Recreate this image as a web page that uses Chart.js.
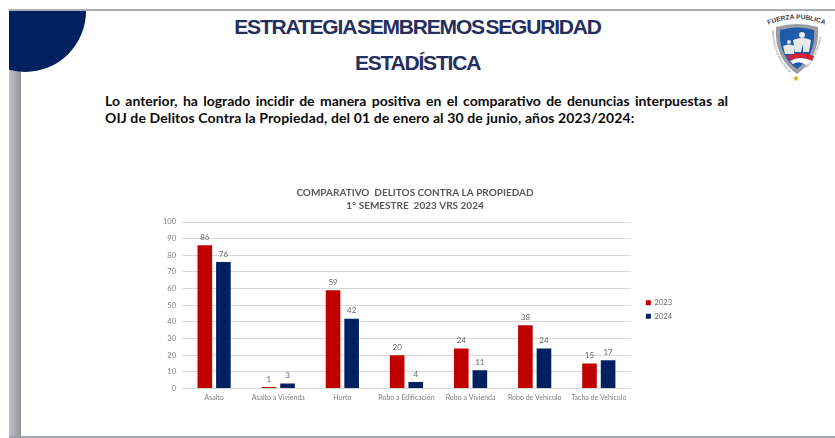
<!DOCTYPE html>
<html>
<head>
<meta charset="utf-8">
<script src="https://cdn.jsdelivr.net/npm/chart.js@4/dist/chart.umd.min.js"></script>
<style>
    html, body { margin: 0; padding: 0; background: #fff; overflow: hidden; }
    #slide { position: relative; width: 835px; height: 438px; overflow: hidden; }
    .top-line { position: absolute; left: 9px; right: 0; top: 9px; height: 2px; background: #a9adb5; }
    .bottom-line { position: absolute; left: 9px; right: 0; top: 436px; height: 2px; background: #a2a6ac; }
    .side-bar { position: absolute; left: 9px; top: 60px; width: 12px; height: 378px;
        background: linear-gradient(to right, #bcc0c4, #a9adb1 50%, #8f9399 100%); }
    .corner { position: absolute; left: 9px; top: 11px; width: 78px; height: 61px; overflow: hidden; }
    .corner div { position: absolute; left: -45px; top: -61px; width: 122px; height: 122px;
        border-radius: 50%; background: #002060; }
    .heading { position: absolute; left: 0; width: 835px; text-align: center;
        font-family: "Liberation Sans", sans-serif; font-weight: bold; font-size: 21px;
        letter-spacing: -1.2px; word-spacing: -3px; color: #262e5e; }
    .intro { position: absolute; left: 105px; width: 623px; font-family: Lato, sans-serif;
        font-weight: bold; font-size: 14px; line-height: 17px; color: #0b0b0b; text-align: justify; }
    .intro .last { text-align-last: left; letter-spacing: 0.12px; }
    .intro .first { text-align-last: justify; }
    #logo { position: absolute; left: 765px; top: 14px; }
    #chartBox { position: absolute; left: 150px; top: 182px; width: 532px; height: 225px; }
</style>
</head>
<body>
<div id="slide">
    <div class="side-bar"></div>
    <div class="top-line"></div>
    <div class="bottom-line"></div>
    <div class="corner"><div></div></div>
    <div class="heading" style="top:15px">ESTRATEGIA SEMBREMOS SEGURIDAD</div>
    <div class="heading" style="top:51px">ESTADÍSTICA</div>
    <div class="intro" style="top:92px">
        <div class="first">Lo anterior, ha logrado incidir de manera positiva en el comparativo de denuncias interpuestas al</div>
        <div class="last">OIJ de Delitos Contra la Propiedad, del 01 de enero al 30 de junio, años 2023/2024:</div>
    </div>
    <svg id="logo" width="65" height="70" viewBox="0 0 65 70">
        <defs>
            <path id="arcTop" d="M5 10 Q31 0 58 10"></path>
            <path id="arcLeft" d="M7 15 Q7 42 26 60"></path>
            <path id="arcRight" d="M36 60 Q56 42 57 15"></path>
        </defs>
        <text font-family="Liberation Sans, sans-serif" font-weight="bold" font-size="6.6" fill="#3a3f4a">
            <textPath href="#arcTop" startOffset="50%" text-anchor="middle">FUERZA PÚBLICA</textPath>
        </text>
        <text font-family="Liberation Sans, sans-serif" font-size="2.6" fill="#555a66">
            <textPath href="#arcLeft" startOffset="50%" text-anchor="middle">MINISTERIO DE SEGURIDAD PÚBLICA</textPath>
        </text>
        <text font-family="Liberation Sans, sans-serif" font-size="2.6" fill="#555a66">
            <textPath href="#arcRight" startOffset="50%" text-anchor="middle">REPÚBLICA DE COSTA RICA</textPath>
        </text>
        <path d="M11 13 Q32 7 53 13 Q55 44 32 60 Q9 44 11 13 Z" fill="#9a9ea4"></path>
        <path d="M15 16 Q32 11 49 16 Q51 41 32 55 Q13 41 15 16 Z" fill="#1f5aa8"></path>
        <path d="M22 42 Q35 36 49 42 L47 47 Q35 41 25 47 Z" fill="#d5213a"></path>
        <path d="M25 47 Q35 41 47 47 L41 51 Q34 46 28 50 Z" fill="#ffffff"></path>
        <circle cx="37" cy="21" r="3" fill="#e6e8ea"></circle>
        <path d="M28 26 Q37 22 46 26 L44 38 L38 38 L38 30 L36 38 L30 38 Z" fill="#e6e8ea"></path>
        <circle cx="24" cy="28" r="2" fill="#e6e8ea"></circle>
        <path d="M18 32 Q24 29 30 32 L29 40 L20 40 Z" fill="#e6e8ea"></path>
        <path d="M31 61 l0.9 2.2 l2.3 0.1 l-1.8 1.4 l0.6 2.3 l-2 -1.3 l-2 1.3 l0.6 -2.3 l-1.8 -1.4 l2.3 -0.1 Z" fill="#e0b020"></path>
    </svg>
    <div id="chartBox"><canvas id="chart"></canvas></div>
</div>
<script>
const categories = ["Asalto", "Asalto a Vivienda", "Hurto", "Robo a Edificación", "Robo a Vivienda", "Robo de Vehiculo", "Tacha de Vehiculo"]
const values2023 = [86, 1, 59, 20, 24, 38, 15]
const values2024 = [76, 3, 42, 4, 11, 24, 17]
const seriesNames = ["2023", "2024"]
const chartTitle = ["COMPARATIVO  DELITOS CONTRA LA PROPIEDAD", "1° SEMESTRE  2023 VRS 2024"]

// labels over the bars
const barLabels = {
    id: "barLabels",
    afterLayout(chart) {
        // legend sits right of and a little under where the layout puts it
        chart.legend.left += 9
        chart.legend.right += 9
        chart.legend.top += 13
        chart.legend.bottom += 13
    },
    afterDatasetsDraw(chart) {
        const ctx = chart.ctx
        ctx.save()
        ctx.font = "8px Lato"
        ctx.fillStyle = "#666666"
        ctx.textAlign = "center"
        ctx.textBaseline = "bottom"
        chart.data.datasets.forEach((ds, i) => {
            chart.getDatasetMeta(i).data.forEach((bar, j) => {
                ctx.fillText(ds.data[j], bar.x, bar.y - 4)
            })
        })
        ctx.restore()
    }
}

new Chart(document.getElementById("chart"), {
    type: "bar",
    data: {
        labels: categories,
        datasets: [
            { label: seriesNames[0], data: values2023, backgroundColor: "#c00000" },
            { label: seriesNames[1], data: values2024, backgroundColor: "#002060" }
        ]
    },
    options: {
        responsive: true,
        maintainAspectRatio: false,
        animation: false,
        categoryPercentage: 0.58,
        barPercentage: 0.786,
        layout: { padding: { left: 7, right: 9, top: 4, bottom: 0 } },
        plugins: {
            title: {
                display: true,
                text: chartTitle,
                color: "#595959",
                font: { family: "Lato", size: 10, weight: "bold", lineHeight: 1.3 },
                padding: { top: 0, bottom: 10 }
            },
            legend: {
                position: "right",
                labels: {
                    boxWidth: 5,
                    boxHeight: 5,
                    padding: 6,
                    color: "#666666",
                    font: { family: "Lato", size: 7.5 }
                }
            },
            tooltip: { enabled: false }
        },
        scales: {
            x: {
                grid: { display: false, drawTicks: false },
                border: { color: "#d9d9d9" },
                ticks: { color: "#7f7f7f", font: { family: "Lato", size: 7 }, maxRotation: 0, autoSkip: false, padding: 5 }
            },
            y: {
                min: 0,
                max: 100,
                grid: { color: "#d9d9d9", drawTicks: false },
                border: { display: false },
                ticks: { stepSize: 10, color: "#7f7f7f", font: { family: "Lato", size: 7.5 }, padding: 6 }
            }
        }
    },
    plugins: [barLabels]
})
</script>
</body>
</html>
